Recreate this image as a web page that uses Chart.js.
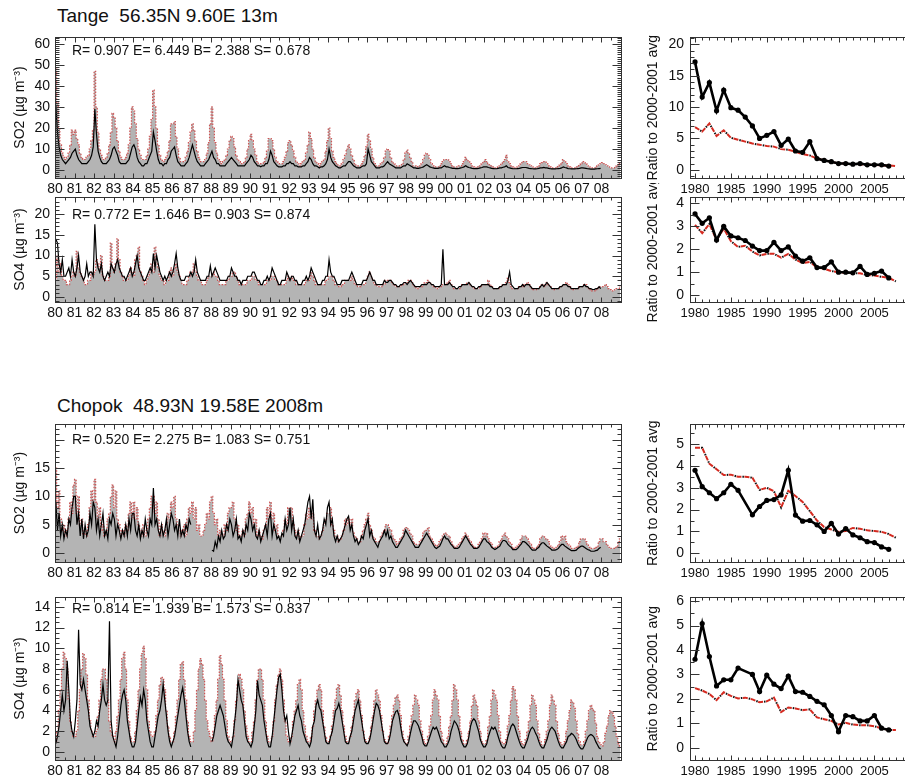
<!DOCTYPE html>
<html>
<head>
<meta charset="utf-8">
<script src="https://cdn.jsdelivr.net/npm/chart.js@4.4.1/dist/chart.umd.min.js"></script>
<style>
  html, body { margin: 0; padding: 0; background: #fff; }
  body { width: 905px; height: 784px; overflow: hidden; position: relative; font-family: "Liberation Sans", Arial, sans-serif; color: #111; }
  canvas { position: absolute; }
  .title { position: absolute; left: 57px; font-size: 19px; line-height: 22px; white-space: pre; }
  .stats { position: absolute; left: 72px; font-size: 14px; line-height: 16px; white-space: pre; }
</style>
</head>
<body>
<div class="title" style="top:5px">Tange  56.35N 9.60E 13m</div>
<div class="title" style="top:395px">Chopok  48.93N 19.58E 2008m</div>

<canvas id="c1"></canvas><canvas id="r1"></canvas>
<canvas id="c2"></canvas><canvas id="r2"></canvas>
<canvas id="c3"></canvas><canvas id="r3"></canvas>
<canvas id="c4"></canvas><canvas id="r4"></canvas>

<div class="stats" style="top:42px">R= 0.907 E= 6.449 B= 2.388 S= 0.678</div>
<div class="stats" style="top:206px">R= 0.772 E= 1.646 B= 0.903 S= 0.874</div>
<div class="stats" style="top:431px">R= 0.520 E= 2.275 B= 1.083 S= 0.751</div>
<div class="stats" style="top:600px">R= 0.814 E= 1.939 B= 1.573 S= 0.837</div>

<script>
// years of the annual series
const years = [1980,1981,1982,1983,1984,1985,1986,1987,1988,1989,1990,1991,1992,1993,1994,
  1995,1996,1997,1998,1999,2000,2001,2002,2003,2004,2005,2006,2007,2008];
const yearLabels = ['80','81','82','83','84','85','86','87','88','89','90','91','92','93','94',
  '95','96','97','98','99','00','01','02','03','04','05','06','07','08'];
const ratioLabels = ['1980','1985','1990','1995','2000','2005'];

// monthly means, one row per year from 1980, Jan..Dec
const tangeSO2Model = [
  [48,32,20,12,8,6,5,6,8,12,19,17],
  [19,15,12,8,6,5,5,6,7,10,14,19],
  [47,30,18,10,7,5,5,6,8,12,18,27],
  [25,20,14,9,6,5,5,6,8,12,20,30],
  [28,22,15,10,7,5,5,5,7,10,16,24],
  [38,30,20,12,7,5,4,5,6,9,14,22],
  [22,23,16,10,6,4,4,4,6,9,13,18],
  [22,19,14,9,6,4,4,4,5,8,13,22],
  [30,20,13,8,5,4,3,4,5,7,10,14],
  [16,15,11,7,5,4,3,3,4,6,10,14],
  [17,14,10,7,4,3,3,3,4,6,9,15],
  [15,14,10,6,4,3,3,3,4,6,9,13],
  [14,12,9,6,4,3,2,3,4,5,8,12],
  [18,15,10,6,4,3,2,3,4,5,9,14],
  [20,15,9,6,4,3,2,2,3,5,7,10],
  [12,10,7,5,3,2,2,2,3,4,7,11],
  [17,14,10,6,3,2,2,2,3,4,6,9],
  [10,9,6,4,3,2,2,2,2,3,5,8],
  [9.5,8,6,4,2,2,1.5,2,2,3,5,7],
  [8,7,5,3,2,1.5,1.5,1.5,2,3,4,5],
  [5,5,4,3,2,1.5,1.5,1.5,2,2,3,4],
  [6,5,4,3,2,1.5,1,1.5,2,2,3,4],
  [5,4,3,2.5,2,1.5,1,1,1.5,2,3,4],
  [5,7,4,3,2,1.5,1,1,1.5,2,3,4],
  [4,4,3,2.5,2,1.5,1,1,1.5,2,3,3.5],
  [4,4,3,2,1.5,1,1,1,1.5,2,2.5,3.5],
  [5,4,3,2,1.5,1,1,1,1.5,2,2.5,3],
  [4,3.5,3,2,1.5,1,1,1,1.5,2,2.5,3],
  [3.5,3,2.5,2,1.5,1,1,1,1.5,2,2.5,3]
];
const tangeSO2Obs = [
  [31,18,11,7,5,4,3,4,5,6,8,9],
  [10,7,5,4,3,3,3,3,4,5,7,11],
  [29,17,9,6,4,3,3,3,4,5,7,10],
  [11,9,7,4,3,3,3,3,4,5,8,11],
  [12,10,6,4,3,2,2,3,3,5,7,9],
  [18,14,9,5,3,3,2,3,3,5,6,9],
  [10,11,7,4,3,2,2,2,3,4,6,9],
  [12,9,6,4,3,2,2,2,3,4,5,7],
  [9,6,5,3,3,2,2,2,2,3,4,5],
  [6,5,4,3,2,2,2,2,2,3,4,5],
  [7,6,4,3,2,2,1.5,2,2,3,3,5],
  [9,7,4,3,2,1.5,1.5,1.5,2,2,3,3],
  [4,3,3,2,2,1.5,1.5,1.5,2,2,3,4],
  [6,5,3,2,2,1.5,1,1.5,1.5,2,3,5],
  [10,6,4,3,2,1.5,1,1,1.5,2,2,3],
  [4,4,3,2,1.5,1,1,1,1.5,2,2,3],
  [10,7,4,3,2,1,1,1,1.5,1.5,2,3],
  [4,3,2.5,2,1.5,1,1,1,1,1.5,2,2],
  [3,2.5,2,1.5,1,1,0.8,0.8,1,1.2,1.5,2],
  [2.5,2,1.5,1.2,1,0.8,0.8,0.8,1,1,1.5,2],
  [1.5,1.5,1.2,1,0.8,0.8,0.7,0.7,0.8,1,1.2,1.5],
  [2,1.5,1.2,1,0.8,0.7,0.7,0.7,0.8,1,1.2,1.5],
  [1.5,1.5,1.2,1,0.8,0.7,0.6,0.6,0.8,1,1,1.3],
  [1.5,2,1.2,1,0.8,0.6,0.6,0.6,0.7,0.8,1,1.2],
  [1.2,1.2,1,0.8,0.7,0.6,0.5,0.5,0.6,0.8,1,1],
  [1.2,1,1,0.8,0.6,0.5,0.5,0.5,0.6,0.7,0.8,1],
  [1.5,1.2,1,0.7,0.6,0.5,0.5,0.5,0.6,0.7,0.8,1],
  [1,0.9,0.8,0.6,0.5,0.4,0.4,0.4,0.5,0.6,0.7,0.8]
];
const tangeSO4Model = [
  [4,10,6,8,5,4,4,3,3,4,5,6],
  [5,11,7,6,5,4,3,3,4,4,6,5],
  [6,9,8,7,10,5,4,4,4,5,13,7],
  [6,8,14,9,6,5,4,4,4,5,7,6],
  [5,9,10,12,6,5,4,3,4,5,6,8],
  [6,12,8,7,5,4,4,3,4,4,6,7],
  [5,7,8,6,5,4,3,3,3,4,5,6],
  [6,8,6,5,4,4,3,3,3,4,5,5],
  [5,6,5,5,4,3,3,3,3,4,4,5],
  [5,6,6,5,4,3,3,3,3,3,4,4],
  [4,5,5,4,4,3,3,3,3,3,4,4],
  [4,5,5,4,4,3,3,3,3,3,4,5],
  [4,5,4,4,3,3,3,3,3,3,4,4],
  [4,6,5,4,3,3,3,3,3,3,4,4],
  [5,5,5,4,3,3,2.5,2.5,3,3,4,4],
  [4,4,5,4,3,3,2.5,2.5,3,3,3,4],
  [5,6,5,4,3,3,2.5,2.5,2.5,3,3,4],
  [4,4,4,3.5,3,2.5,2.5,2.5,2.5,3,3,3.5],
  [3.5,4,4,3.5,3,2.5,2,2,2.5,2.5,3,3.5],
  [3.5,4,3.5,3,2.5,2.5,2,2,2.5,2.5,3,3],
  [3,3.5,4,3,2.5,2,2,2,2,2.5,3,3],
  [3,3.5,3.5,3,2.5,2,2,2,2,2.5,3,3],
  [3,3,4,3,2.5,2,2,2,2,2.5,2.5,3],
  [3,3.5,4.5,3.5,2.5,2,2,2,2,2.5,2.5,3],
  [2.5,3,3.5,3,2.5,2,1.8,1.8,2,2,2.5,3],
  [2.5,3,3.5,3,2.5,2,1.8,1.8,2,2,2.5,2.5],
  [3,3,3.5,3,2.5,2,1.8,1.8,2,2,2.5,2.5],
  [2.5,3,3,2.5,2,1.8,1.5,1.5,1.8,2,2.5,2.5],
  [2.5,2.5,3,2.5,2,1.8,1.5,1.5,1.8,2,2,2.5]
];
const tangeSO4Obs = [
  [14,13,8,6,9,5,5,6,7,5,9,6],
  [5,7,10,6,5,4,5,8,5,6,6,5],
  [17.5,9,7,6,8,5,4,5,6,5,8,7],
  [6,8,9,7,6,5,5,4,5,6,7,5],
  [6,8,10,7,6,5,4,4,5,6,7,6],
  [10.5,7,10,8,6,5,4,5,4,5,6,5],
  [6,8,10.5,7,5,4,4,4,5,5,5,6],
  [5,6,9,6,5,4,4,4,4,5,5,7.5],
  [5,6,7,6,5,4,4,4,4,4,5,5],
  [7,6,5,5,4,4,3,4,4,4,5,5],
  [5,6,6,5,4,4,3,3,4,4,5,4],
  [5,7,6,5,4,3,3,4,4,4,6,5],
  [4,5,5,4,4,3,3,3,4,4,5,4],
  [5,7,6,5,4,3,3,3,4,4,5,5],
  [9,6,5,5,4,3,3,3,4,4,4,4],
  [4,5,6,5,4,3,3,3,3,4,4,4],
  [5,6,5,4,4,3,3,3,3,3,4,3.5],
  [3.5,4,4,3.5,3,3,2.5,2.5,3,3,3.5,3.5],
  [3,3.5,4,3.5,3,2.5,2.5,2.5,2.5,3,3,3],
  [3,3.5,3.5,3,3,2.5,2.5,2.5,2.5,3,11.5,3],
  [3,3,3.5,3,2.5,2.5,2,2,2.5,2.5,3,3],
  [3,3,3.5,3,2.5,2.5,2,2,2.5,2.5,3,3],
  [3,3,3,2.5,2.5,2,2,2,2,2.5,2.5,3],
  [3,3,4,6,3,2.5,2,2,2,2.5,2.5,3],
  [2.5,3,3,3,2.5,2,2,2,2,2,2.5,3],
  [2.5,3,3.5,3,2.5,2,2,2,2,2,2.5,2.5],
  [3,3,3,2.5,2.5,2,2,2,2,2,2.5,2.5],
  [2.5,3,2.5,2.5,2,2,1.8,1.8,2,2,2.5,2]
];
const chopokSO2Model = [
  [15,8,11,6,4,5,3,4,6,9,7,12],
  [13,7,10,5,6,3,4,3,5,8,11,9],
  [13,9,6,8,4,5,3,4,6,7,10,12],
  [8,11,6,5,3,4,3,5,4,7,9,6],
  [9,6,8,5,4,3,5,3,4,6,8,10],
  [10,7,9,6,3,5,4,3,5,7,6,9],
  [8,10,6,5,4,3,4,5,3,6,8,7],
  [9,6,8,4,5,3,3,4,5,7,6,9],
  [10,7,5,6,3,4,3,3,5,4,7,8],
  [8,9,6,4,5,3,3,4,3,6,7,9],
  [7,8,5,6,3,4,3,2.5,4,5,8,6],
  [9,6,7,4,5,3,3,3,4,6,5,8],
  [7,8,5,4,3,4,2.5,3,3,5,7,6],
  [8,6,7,4,3,3,2.5,3,4,5,6,7],
  [7,8,5,4,3,3,2,2.5,3,4,6,5],
  [6,5,6,3.5,3,2.5,2,2,3,4,5,6],
  [7,5,4,3,2.5,2,2,2,3,3.5,4,5],
  [5,4.5,4,3,2.5,2,1.5,2,2.5,3,4,4.5],
  [4.5,4,3.5,3,2,1.5,1.5,1.5,2,2.5,3.5,4],
  [4,4.5,3,2.5,2,1.5,1.2,1.5,2,2.5,3,3.5],
  [3.5,3,3,2,1.5,1.2,1,1.2,1.5,2,2.5,3],
  [3.5,3,2.5,2,1.5,1.2,1,1,1.5,2,2.5,3.5],
  [3,3.5,2.5,2,1.5,1,1,1,1.2,2,2.5,3],
  [3.5,3,2.5,2,1.5,1,0.8,1,1.2,1.5,2.5,3],
  [3,3,2.5,2,1.5,1,0.8,0.8,1.2,1.5,2.5,3],
  [3,2.5,2.5,2,1.2,1,0.8,0.8,1,1.5,2,3],
  [2.5,3,2,1.5,1.2,0.8,0.8,0.8,1,1.2,2,2.5],
  [2.5,2.5,2,1.5,1,0.8,0.8,0.8,1,1.2,2,2.5],
  [2.5,2,2,1.5,1,0.8,0.8,0.8,1,1.2,2,2.5]
];
const chopokSO2Obs = [
  [9,4,7,3,5,2.5,4,3,6,5,8,10],
  [10,5,7,3,6,2.5,5,3,4,7,5,9],
  [8,4,6,3,5,7,3,4,2.5,6,5,7],
  [6,3,5,4,2.5,4,3,5,3,6,4,7],
  [7,4,3,5,2.5,4,3,6,4,3,6,5],
  [11.5,5,6,4,3,5,3,4,6,3,5,7],
  [6,4,5,3,6,3,4,3,5,4,6,5],
  [null,null,null,null,null,null,null,null,null,null,null,null],
  [0.5,0.3,2,1,3,2,4,2.5,3,5,4,6],
  [5,3,4,6,2.5,3,2,4,3,5,4,7],
  [6,4,5,3,2.5,4,2,3,4,5,3,6],
  [7,3,5,4,2.5,3,2,3.5,3,6,4,5],
  [8,4,6,3,2.5,4,2,3,4,5,7,9],
  [10,6,9.5,4,3,5,2.5,3,4,6,5,8],
  [9,5,6,3,2,3,2,2.5,3,4,5,6],
  [6.5,4,5,3,2,2.5,1.5,2,3,2.5,4,5],
  [6,3,4,2.5,2,1.5,1,2,2.5,3,4,3],
  [4,2.5,3,2,1.5,1,1,1.5,2,2.5,3,4],
  [3.5,3,2.5,2,1.5,1,1,1,1.5,2,2.5,3],
  [3.5,3,2.5,2,1.5,1,0.8,1,1.2,1.8,2.5,3],
  [2.5,2.5,2,1.5,1.2,0.8,0.8,0.8,1,1.5,2,2.5],
  [3,2.5,2,1.5,1.2,0.8,0.8,0.8,1,1.5,2,2.5],
  [2.5,2,1.8,1.5,1,0.8,0.6,0.8,1,1.2,1.8,2.2],
  [2.2,2,1.5,1.2,1,0.6,0.6,0.6,0.8,1.2,1.5,2],
  [2,1.8,1.5,1.2,0.8,0.5,0.5,0.5,0.8,1,1.5,1.8],
  [1.8,1.5,1.2,1,0.8,0.5,0.5,0.5,0.6,0.8,1.2,1.5],
  [1.5,1.2,1,0.8,0.6,0.4,0.4,0.4,0.5,0.8,1,1.2],
  [1.2,1,0.8,0.6,0.5,0.3,0.3,0.3,0.4,0.5,0.8,1]
];
const chopokSO4Model = [
  [1,2,4,6,8,9.6,9,8,5,3,2,1.5],
  [1.5,2,4,6,8,9.5,9,7.5,5,3,2,1.5],
  [1.5,2,3.5,5,7,8,8,7,5,3,2,1.5],
  [1,2,3.5,5,7,9,9.6,8,5,3,1.5,1],
  [1,2,4,6,8,9.5,10.2,9,6,3,2,1.5],
  [1.5,2,3.5,5,6.5,7.2,7,6,4,2.5,1.5,1],
  [1,2,3.5,5,7,8.5,8.7,7,5,3,1.5,1],
  [1,2,4,6,8,9,8.5,7,5,3,2,1.5],
  [1,2,3.5,5,7,9.3,8.5,7,5,3,1.5,1],
  [1,1.5,3,5,6.5,7.5,7,6,4,2.5,1.5,1],
  [1,2,3,5,7,8,8,7,5,3,1.5,1],
  [1,1.5,3,5,6.5,7.5,8,7,5,3,1.5,1],
  [1,1.5,3,4,5,6.5,7,6,4,2.5,1.5,1],
  [1,1.5,2.5,4,5,6,6.5,6,4,2.5,1.5,1],
  [1,1.5,2.5,4,5,6.2,6.5,5.5,4,2.5,1.5,1],
  [1,1.5,2.5,3.5,5,5.7,6,5,3.5,2,1.2,1],
  [1,1.5,2.5,3.5,5,6,5.5,5,3.5,2,1.2,1],
  [0.8,1.5,2.5,3.5,4.5,5.3,5.5,5,3.5,2,1.2,0.8],
  [0.8,1.5,2.5,3.5,4.5,5.5,5,4.5,3,2,1.2,0.8],
  [0.8,1.5,2.5,3.5,5,6,5.5,5,3.5,2,1.2,0.8],
  [0.8,1.5,2.5,3.5,5,6.5,6,5,3.5,2,1.2,0.8],
  [0.8,1.2,2,3,4.5,5.5,5,4.5,3,2,1,0.8],
  [0.8,1.2,2.5,3.5,5,6,5.5,5,3.5,2,1,0.8],
  [0.8,1.2,2.5,3.5,5,6.3,6,5,3.5,2,1,0.8],
  [0.7,1.2,2,3,4.5,5.5,5,4.5,3,1.8,1,0.7],
  [0.7,1.2,2,3,4.5,5.5,5,4.5,3,1.8,1,0.7],
  [0.7,1,2,3,4,5,4.8,4.2,3,1.8,1,0.7],
  [0.7,1,2,3,4,4.5,4.2,4,2.8,1.5,1,0.7],
  [0.6,1,1.8,2.5,3.5,4,3.8,3.5,2.5,1.5,0.8,0.6]
];
const chopokSO4Obs = [
  [0.8,1.5,2.5,4,5.5,4,5,8.8,6,3,2,1.5],
  [3,5,11.8,6.5,6,7,6,5,4,2.5,2,1.5],
  [2,3,2.5,4,5,6.5,5,4.5,5,12.6,3,1.5],
  [1,0.5,1.5,3,4.5,5.5,6,5,3,2,1,0.5],
  [0.5,1,2.5,4,5.3,4.5,6,5,3,2,1,0.5],
  [0.5,1.5,2.5,3.5,4,5,6.5,5,3.5,2,1,0.5],
  [1,1.5,2.5,3.5,4.5,5.5,6.2,5,3.5,2,1,0.5],
  [null,null,null,null,null,null,null,null,null,null,null,null],
  [1,1.5,2.5,3.5,4,4.5,4,3.5,2.5,1.5,1,0.8],
  [0.5,1.5,3,4.5,7,6,5,4.5,3,1.5,1,0.8],
  [0.5,1,2.5,4,6.9,5.5,5,4.5,3,2,1,0.5],
  [0.5,1.5,3,4.5,6,7.2,7.5,6,4,3,3.5,2],
  [0.8,1.5,2.5,3.5,4,4.5,3.5,3,2,1.5,1,0.8],
  [0.5,1,2.5,3,4.5,5,4.3,4,3,2,1,0.8],
  [0.8,1.5,2,3,4,4.2,4.7,4,3,2,1,0.8],
  [0.8,1.5,2,3,4,4.5,5,4,3,2,1,0.8],
  [0.8,1.2,2,3,4,4.7,4.5,4,3,2,1,0.8],
  [0.8,1.2,2,3,3.5,3.9,4,3.5,2.5,1.5,1,0.8],
  [0.6,1,1.8,2.5,3,3,2.8,2.5,2,1.5,0.8,0.6],
  [0.6,1,1.5,2,2.4,2.2,2.4,2,1.5,1,0.8,0.5],
  [0.5,0.8,1.2,2,2.5,3,2.8,2.5,2,1.2,0.8,0.5],
  [0.5,0.8,1.5,2.5,3,3.2,3,2.5,2,1.2,0.8,0.5],
  [0.5,0.8,1.5,2,2.4,2.2,2.4,2,1.5,1,0.6,0.4],
  [0.4,0.8,1.5,2,2.5,2.7,2.5,2,1.5,1,0.6,0.4],
  [0.4,0.8,1.2,1.8,2.2,2.4,2.2,1.8,1.5,1,0.6,0.4],
  [0.4,0.8,1.2,1.8,2.2,2.4,2.2,2,1.5,1,0.6,0.4],
  [0.4,0.7,1,1.5,1.6,1.8,1.7,1.5,1.2,0.8,0.5,0.3],
  [0.3,0.6,1,1.4,1.6,1.7,1.6,1.4,1,0.7,0.4,0.3]
];

// annual ratio to the 2000-2001 average
const tangeSO2RatioObs = [17.2,11.6,13.9,9.4,12.7,9.9,9.5,8.4,7.0,5.0,5.5,6.1,3.9,4.9,3.0,2.8,4.5,1.8,1.5,1.3,1.0,1.0,0.9,1.0,0.8,0.8,0.8,0.6];
const tangeSO2RatioModel = [6.8,6.1,7.4,5.4,6.3,5.1,4.8,4.5,4.2,4.0,3.8,3.7,3.3,3.2,2.9,2.5,2.3,1.8,1.5,1.3,1.0,1.0,0.9,0.9,0.8,0.8,0.7,0.7,0.6];
const tangeSO4RatioObs = [3.54,3.13,3.37,2.4,3.0,2.58,2.5,2.38,2.14,1.94,1.94,2.3,1.94,2.1,1.7,1.48,1.63,1.2,1.2,1.45,1.0,1.0,0.97,1.25,0.9,0.95,1.05,0.75];
const tangeSO4RatioModel = [3.06,2.7,3.1,2.4,2.9,2.35,2.1,2.15,1.9,1.73,1.8,1.8,1.63,1.8,1.55,1.4,1.45,1.2,1.15,1.05,1.0,0.98,0.95,0.95,0.88,0.85,0.8,0.75,0.6];
const chopokSO2RatioObs = [3.8,3.05,2.77,2.5,2.77,3.16,2.88,null,1.76,2.14,2.42,2.46,2.67,3.8,1.75,1.47,1.5,1.3,1.0,1.37,0.88,1.13,0.84,0.71,0.53,0.49,0.29,0.18];
const chopokSO2RatioModel = [4.83,4.83,4.1,3.85,3.58,3.6,3.5,3.5,3.46,2.9,3.0,2.84,2.1,2.86,2.62,2.35,1.93,1.5,1.2,1.09,0.98,1.02,1.16,1.12,1.05,1.02,0.98,0.88,0.71];
const chopokSO4RatioObs = [3.62,5.08,3.73,2.53,2.78,2.78,3.26,null,3.0,2.3,2.97,2.6,2.42,2.93,2.3,2.27,2.1,1.9,1.76,1.32,0.66,1.32,1.27,1.1,1.1,1.32,0.8,0.73];
const chopokSO4RatioModel = [2.44,2.34,2.2,1.95,2.27,2.12,2.02,2.05,1.98,1.86,1.9,2.05,1.46,1.65,1.61,1.54,1.57,1.24,1.17,1.1,0.95,1.02,0.95,0.92,0.92,0.88,0.8,0.73,0.73];

Chart.defaults.font.family = '"Liberation Sans", Arial, sans-serif';
Chart.defaults.color = '#111';

// turn the year rows into {x, y} points at mid-month
function monthly(rows) {
  const pts = [];
  rows.forEach((row, i) => row.forEach((v, m) => pts.push({ x: years[i] + (m + 0.5) / 12, y: v })));
  return pts;
}
function annual(vals) {
  return vals.map((v, i) => ({ x: years[i], y: v }));
}

// IDL style frame: box with inward ticks on all four sides
const frameTicks = {
  id: 'frameTicks',
  afterDraw(chart, args, o) {
    const { ctx, chartArea: a } = chart;
    const xs = chart.scales.x, ys = chart.scales.y;
    ctx.save();
    ctx.strokeStyle = '#333';
    ctx.lineWidth = 1;
    const L = Math.round(a.left) + 0.5, R = Math.round(a.right) + 0.5;
    const T = Math.round(a.top) + 0.5, B = Math.round(a.bottom) + 0.5;
    ctx.strokeRect(L, T, R - L, B - T);
    ctx.beginPath();
    const marks = (scale, step, len, horiz) => {
      const start = Math.ceil(scale.min / step - 1e-6);
      for (let k = start; k * step <= scale.max + 1e-6; k++) {
        const p = Math.round(scale.getPixelForValue(k * step)) + 0.5;
        if (horiz) {
          ctx.moveTo(p, B); ctx.lineTo(p, B - len);
          ctx.moveTo(p, T); ctx.lineTo(p, T + len);
        } else {
          ctx.moveTo(L, p); ctx.lineTo(L + len, p);
          ctx.moveTo(R, p); ctx.lineTo(R - len, p);
        }
      }
    };
    marks(xs, o.xMinor, 3, true);
    marks(xs, o.xMajor, 5, true);
    marks(ys, o.yMinor, 4, false);
    marks(ys, o.yMajor, 9, false);
    ctx.stroke();
    ctx.restore();
  }
};

const rowGeom = [
  { top: 37, bottom: 178 },
  { top: 197, bottom: 302 },
  { top: 424, bottom: 562 },
  { top: 597, bottom: 760 }
];

function place(canvas, left, width, g) {
  canvas.width = width;
  canvas.height = g.bottom - g.top + 14 + 26;
  canvas.style.left = left + 'px';
  canvas.style.top = (g.top - 14) + 'px';
}

function seriesChart(id, g, model, obs, yMin, yMax, yStep, yMinor, yTop, yTitle) {
  const canvas = document.getElementById(id);
  place(canvas, 0, 630, g);
  return new Chart(canvas, {
    type: 'line',
    data: {
      datasets: [
        { data: monthly(obs), borderColor: '#000', borderWidth: 1.2, pointRadius: 0, fill: false, order: 0 },
        { data: monthly(model), borderColor: 'rgba(205,70,70,0.9)', borderDash: [1.5, 1.5], borderWidth: 1.2,
          pointRadius: 0, stepped: 'middle', fill: 'start', backgroundColor: '#b4b4b4', order: 1 }
      ]
    },
    options: {
      responsive: false, animation: false, devicePixelRatio: 1,
      layout: { padding: { top: 14, right: 9, left: 0, bottom: 0 } },
      plugins: {
        legend: { display: false }, tooltip: { enabled: false },
        frameTicks: { xMinor: 0.5, xMajor: 1, yMinor: yMinor, yMajor: yStep }
      },
      scales: {
        x: {
          type: 'linear', min: 1980, max: 2009,
          afterFit: s => { s.height = 26; },
          grid: { display: false, drawTicks: false }, border: { display: false },
          ticks: { stepSize: 1, autoSkip: false, maxRotation: 0, includeBounds: false, padding: 3,
                   font: { size: 14 }, callback: v => yearLabels[v - 1980] ?? '' }
        },
        y: {
          type: 'linear', min: yMin, max: yMax,
          afterFit: s => { s.width = 55; },
          afterBuildTicks: s => { s.ticks = s.ticks.filter(t => t.value <= yTop); },
          grid: { display: false, drawTicks: false }, border: { display: false },
          ticks: { stepSize: yStep, autoSkip: false, includeBounds: false, padding: 5, font: { size: 14 } },
          title: { display: true, text: yTitle, font: { size: 14 }, padding: { top: 12, bottom: 0 } }
        }
      }
    },
    plugins: [frameTicks]
  });
}

function ratioChart(id, g, obs, model, yMin, yMax, yStep, yMinor) {
  const canvas = document.getElementById(id);
  place(canvas, 640, 280, g);
  const gap = c => c.p1DataIndex - c.p0DataIndex > 1;
  return new Chart(canvas, {
    type: 'line',
    data: {
      datasets: [
        { data: annual(obs), borderColor: '#000', borderWidth: 2.6, pointRadius: 2.6, pointBorderWidth: 0,
          pointBackgroundColor: '#000', spanGaps: true, order: 0,
          segment: { borderWidth: c => (gap(c) ? 0.8 : 2.6), borderColor: c => (gap(c) ? '#666' : '#000') } },
        { data: annual(model), borderColor: '#d42a20', borderWidth: 2, borderDash: [5, 3], pointRadius: 0, order: 1 },
        { data: annual(model), borderColor: '#111', borderWidth: 2, borderDash: [1.5, 6.5], borderDashOffset: 2,
          pointRadius: 0, order: 2 }
      ]
    },
    options: {
      responsive: false, animation: false, devicePixelRatio: 1,
      layout: { padding: { top: 14, right: 3, left: 0, bottom: 0 } },
      plugins: {
        legend: { display: false }, tooltip: { enabled: false },
        frameTicks: { xMinor: 1, xMajor: 5, yMinor: yMinor, yMajor: yStep }
      },
      scales: {
        x: {
          type: 'linear', min: 1979.3, max: 2010.8,
          afterFit: s => { s.height = 26; },
          grid: { display: false, drawTicks: false }, border: { display: false },
          ticks: { stepSize: 5, autoSkip: false, maxRotation: 0, includeBounds: false, padding: 4,
                   font: { size: 13 }, callback: v => ratioLabels[(v - 1980) / 5] ?? '' }
        },
        y: {
          type: 'linear', min: yMin, max: yMax,
          afterFit: s => { s.width = 50; },
          grid: { display: false, drawTicks: false }, border: { display: false },
          ticks: { stepSize: yStep, autoSkip: false, includeBounds: false, padding: 6, font: { size: 14 } },
          title: { display: true, text: 'Ratio to 2000-2001 avg', font: { size: 14 }, padding: { top: 5, bottom: 0 } }
        }
      }
    },
    plugins: [frameTicks]
  });
}

const so2Title = 'SO2 (\u00B5g m\u207B\u00B3)';
const so4Title = 'SO4 (\u00B5g m\u207B\u00B3)';

seriesChart('c1', rowGeom[0], tangeSO2Model, tangeSO2Obs, -3.8, 63.3, 10, 1, 60, so2Title);
seriesChart('c2', rowGeom[1], tangeSO4Model, tangeSO4Obs, -1.2, 24.1, 5, 1, 20, so4Title);
seriesChart('c3', rowGeom[2], chopokSO2Model, chopokSO2Obs, -1.6, 22.8, 5, 1, 15, so2Title);
seriesChart('c4', rowGeom[3], chopokSO4Model, chopokSO4Obs, -0.77, 14.95, 2, 0.5, 14, so4Title);

ratioChart('r1', rowGeom[0], tangeSO2RatioObs, tangeSO2RatioModel, -1.3, 21.1, 5, 1);
ratioChart('r2', rowGeom[1], tangeSO4RatioObs, tangeSO4RatioModel, -0.3, 4.26, 1, 0.5);
ratioChart('r3', rowGeom[2], chopokSO2RatioObs, chopokSO2RatioModel, -0.4, 5.9, 1, 0.5);
ratioChart('r4', rowGeom[3], chopokSO4RatioObs, chopokSO4RatioModel, -0.5, 6.15, 1, 0.5);
</script>
</body>
</html>
